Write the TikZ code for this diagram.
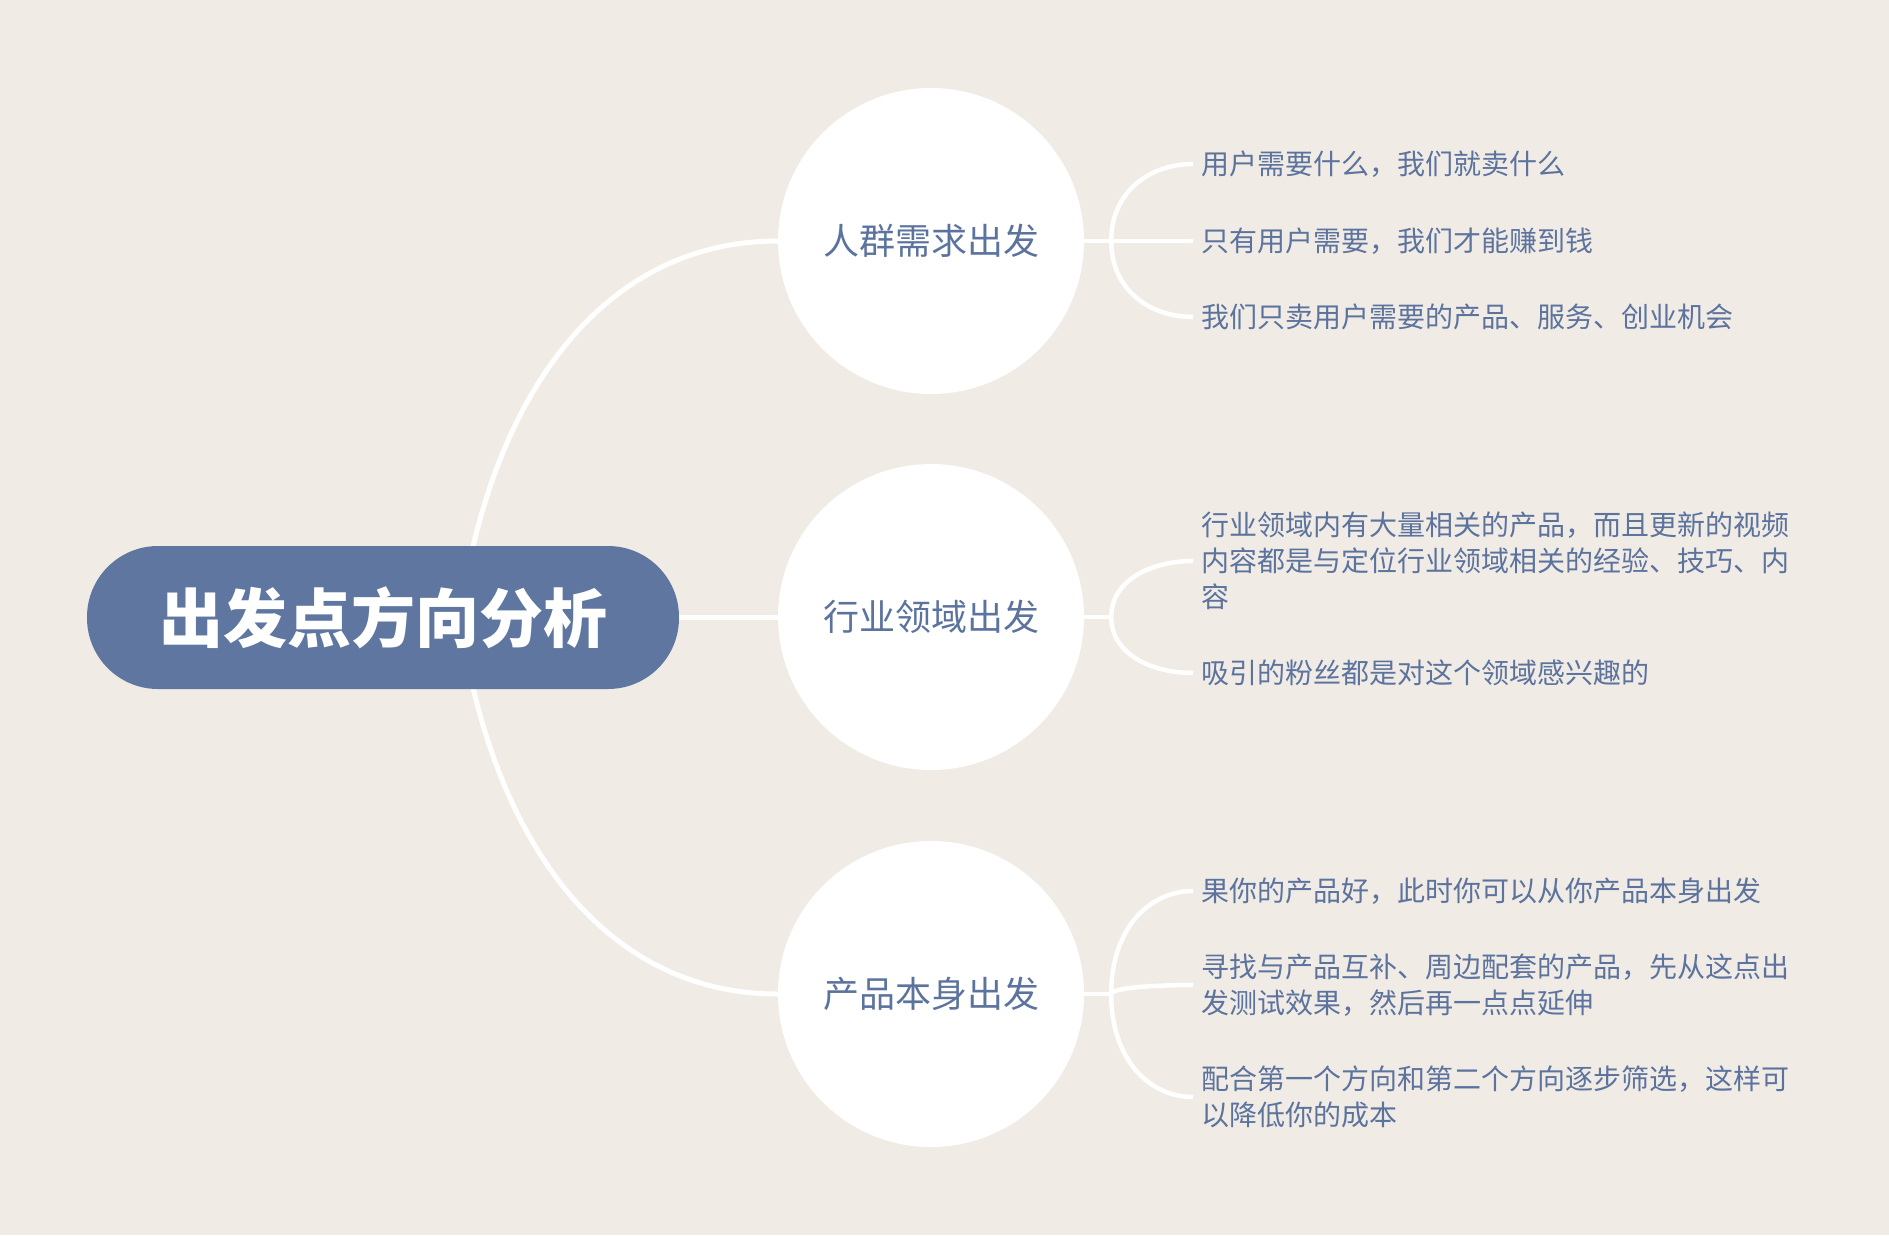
\documentclass[tikz,border=0pt]{standalone}
\usepackage{fontspec}
\setmainfont{Noto Sans CJK SC}
\usetikzlibrary{positioning,calc}

\definecolor{bgcream}{HTML}{F0EBE5}
\definecolor{pillblue}{HTML}{5F77A0}
\definecolor{inkblue}{HTML}{5C739E}

\tikzset{
  rootpill/.style={rectangle, rounded corners=71pt, fill=pillblue, text=white,
    minimum width=592pt, minimum height=143pt, inner sep=0pt,
    font=\fontsize{64}{70}\selectfont\bfseries},
  topic/.style={circle, fill=white, minimum size=306pt, inner sep=0pt,
    text=inkblue, font=\fontsize{36}{42}\selectfont},
  leaf/.style={anchor=west, inner xsep=8pt, inner ysep=0pt, align=left,
    text=inkblue, font=\fontsize{28}{36}\selectfont},
  link/.style={draw=white, line width=5pt},
  twig/.style={draw=white, line width=4.5pt},
}

\begin{document}
\begin{tikzpicture}[x=1pt, y=-1pt]
    % draw background
    \fill[bgcream] (0,0) rectangle (1889,1235);
    \useasboundingbox (0,0) rectangle (1889,1235);

    % draw topics
    \coordinate (rootfork) at (460,617);
    \node[topic] (crowd) at (931,241) {人群需求出发};
    \node[topic] (field) at (931,617) {行业领域出发};
    \node[topic] (goods) at (931,994) {产品本身出发};

    % draw forks
    \foreach \t in {crowd,field,goods}
      \coordinate (\t fork) at ([xshift=27pt]\t.east);

    % draw leaves
    \node[leaf] (crowdA) at (1193,164) {用户需要什么，我们就卖什么};
    \node[leaf] (crowdB) at (1193,241) {只有用户需要，我们才能赚到钱};
    \node[leaf] (crowdC) at (1193,317) {我们只卖用户需要的产品、服务、创业机会};
    \node[leaf] (fieldA) at (1193,561) {行业领域内有大量相关的产品，而且更新的视频\\内容都是与定位行业领域相关的经验、技巧、内\\容};
    \node[leaf] (fieldB) at (1193,673) {吸引的粉丝都是对这个领域感兴趣的};
    \node[leaf] (goodsA) at (1193,891) {果你的产品好，此时你可以从你产品本身出发};
    \node[leaf] (goodsB) at (1193,985) {寻找与产品互补、周边配套的产品，先从这点出\\发测试效果，然后再一点点延伸};
    \node[leaf] (goodsC) at (1193,1097) {配合第一个方向和第二个方向逐步筛选，这样可\\以降低你的成本};

    % draw links from root
    \draw[link] (rootfork) .. controls +(30,-217) and +(-178,0) .. (crowd.west);
    \draw[link] (rootfork) -- (field.west);
    \draw[link] (rootfork) .. controls +(30,217) and +(-178,0) .. (goods.west);

    % draw twigs
    \foreach \t in {crowd,field,goods}
      \draw[twig] (\t.east) -- (\t fork);
    \foreach \t/\l in {crowd/crowdA,crowd/crowdB,crowd/crowdC,field/fieldA,field/fieldB,goods/goodsA,goods/goodsB,goods/goodsC}
      \draw[twig] (\t fork) .. controls ($(\t fork)!0.65!(\t fork|-\l.west)$) and ($(\l.west)!0.52!(\l.west-|\t fork)$) .. (\l.west);

    % draw root
    \node[rootpill] (root) at (383,617.5) {出发点方向分析};
\end{tikzpicture}
\end{document}
